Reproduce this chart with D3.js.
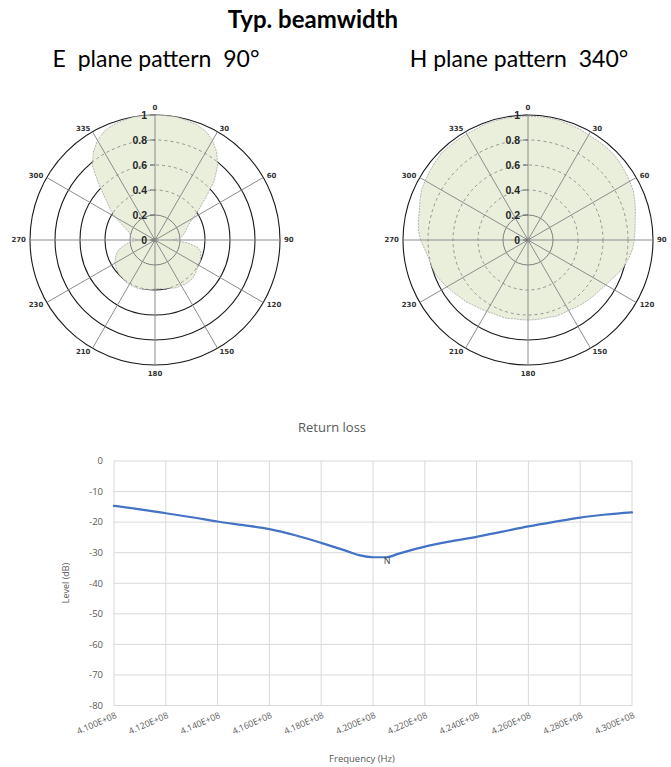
<!DOCTYPE html>
<html><head><meta charset="utf-8">
<script src="https://cdn.jsdelivr.net/npm/d3@7"></script>
<style>
html,body{margin:0;padding:0;background:#fff;}
svg{display:block;}
</style></head>
<body>
<svg id="chart" width="671" height="767"></svg>
<script>
// ---------- data ----------
const patternAngles = [0,5,10,15,20,25,30,35,40,45,50,55,60,65,70,75,80,85,90,95,100,105,110,115,120,125,130,135,140,145,150,155,160,165,170,175,180,185,190,195,200,205,210,215,220,225,230,235,240,245,250,255,260,265,270,275,280,285,290,295,300,305,310,315,320,325,330,335,340,345,350,355];
const ePlane = [1.00,1.00,1.00,0.99,0.98,0.96,0.92,0.86,0.78,0.67,0.53,0.43,0.35,0.30,0.27,0.25,0.23,0.20,0.14,0.26,0.35,0.38,0.39,0.40,0.40,0.41,0.42,0.43,0.43,0.43,0.42,0.42,0.41,0.40,0.40,0.39,0.39,0.40,0.40,0.41,0.41,0.41,0.41,0.41,0.40,0.40,0.39,0.38,0.37,0.35,0.33,0.30,0.25,0.20,0.13,0.19,0.20,0.21,0.24,0.29,0.37,0.44,0.52,0.64,0.78,0.86,0.92,0.96,0.98,0.99,1.00,1.00];
const hPlane = [0.99,0.99,0.99,0.99,0.98,0.98,0.97,0.97,0.97,0.97,0.96,0.95,0.94,0.93,0.91,0.89,0.87,0.86,0.85,0.84,0.82,0.80,0.77,0.74,0.72,0.70,0.69,0.68,0.67,0.66,0.65,0.65,0.65,0.64,0.64,0.64,0.64,0.64,0.64,0.65,0.65,0.65,0.66,0.67,0.68,0.70,0.71,0.73,0.75,0.77,0.79,0.80,0.81,0.83,0.86,0.88,0.89,0.90,0.92,0.94,0.95,0.96,0.97,0.98,0.98,0.98,0.98,0.98,0.99,0.99,0.99,0.99];
const spokeAngles = [0,30,60,90,120,150,180,210,240,270,300,330];
const spokeLabels = ["0","30","60","90","120","150","180","210","230","270","300","335"];
const ringValues = [0.2,0.4,0.6,0.8,1.0];
const ringLabels = ["0","0.2","0.4","0.6","0.8","1"];

const freqs = [4.10e8,4.11e8,4.12e8,4.13e8,4.14e8,4.15e8,4.16e8,4.17e8,4.18e8,4.19e8,4.195e8,4.20e8,4.205e8,4.21e8,4.22e8,4.23e8,4.24e8,4.25e8,4.26e8,4.27e8,4.28e8,4.29e8,4.30e8];
const returnLoss = [-14.7,-15.8,-17.1,-18.4,-19.8,-21.0,-22.3,-24.3,-26.8,-29.5,-30.9,-31.5,-31.5,-30.3,-28.0,-26.3,-24.8,-23.1,-21.4,-19.9,-18.5,-17.5,-16.8];
const freqTicks = [4.10e8,4.12e8,4.14e8,4.16e8,4.18e8,4.20e8,4.22e8,4.24e8,4.26e8,4.28e8,4.30e8];
const levelTicks = [0,-10,-20,-30,-40,-50,-60,-70,-80];

// ---------- drawing ----------
const svg = d3.select("#chart");

svg.append("text").attr("x",313).attr("y",28).attr("text-anchor","middle")
  .style("font-family","Lato, 'Open Sans', sans-serif").style("font-weight","bold").style("font-size","24px").attr("fill","#000")
  .text("Typ. beamwidth");
svg.append("text").attr("x",156).attr("y",67).attr("text-anchor","middle")
  .style("font-family","Lato, 'Open Sans', sans-serif").style("font-size","23px").attr("fill","#000").attr("xml:space","preserve")
  .text("E  plane pattern  90°");
svg.append("text").attr("x",519).attr("y",67).attr("text-anchor","middle")
  .style("font-family","Lato, 'Open Sans', sans-serif").style("font-size","23px").attr("fill","#000").attr("xml:space","preserve")
  .text("H plane pattern  340°");

function drawPolar(cx, cy, values, id){
  const g = svg.append("g").attr("transform",`translate(${cx},${cy})`);
  const r = d3.scaleLinear().domain([0,1]).range([0,125]);
  const pts = patternAngles.map((a,i)=>({a:a, v:values[i]}));
  const radial = d3.lineRadial().angle(d=>d.a*Math.PI/180).radius(d=>r(d.v)).curve(d3.curveLinearClosed);

  g.selectAll(".ring").data(ringValues.filter(v=>v>0.2)).enter().append("circle")
    .attr("r",d=>r(d)).attr("fill","none").attr("stroke","#1a1a1a").attr("stroke-width",1.1);

  g.append("path").attr("d",radial(pts)).attr("fill","#eaefdc").attr("stroke","none");

  svg.append("defs").append("clipPath").attr("id","clip"+id).append("path").attr("d",radial(pts));
  g.append("g").attr("clip-path",`url(#clip${id})`).selectAll("circle")
    .data(ringValues.filter(v=>v>0.2)).enter().append("circle")
    .attr("r",d=>r(d)).attr("fill","none").attr("stroke","#8a8a8a").attr("stroke-width",0.9).attr("stroke-dasharray","3,3");

  g.append("circle").attr("r",r(0.2)).attr("fill","none").attr("stroke","#7f7f7f").attr("stroke-width",1);

  g.selectAll(".spoke").data(spokeAngles).enter().append("line")
    .attr("x1",0).attr("y1",0)
    .attr("x2",d=>r(1)*Math.sin(d*Math.PI/180))
    .attr("y2",d=>-r(1)*Math.cos(d*Math.PI/180))
    .attr("stroke","#8c8c8c").attr("stroke-width",1);

  g.append("path").attr("d",radial(pts)).attr("fill","none").attr("stroke","#9a9a9a").attr("stroke-width",0.7).attr("stroke-dasharray","2,1");

  g.append("circle").attr("r",2.2).attr("fill","#8c8c8c");

  const ringAll = [0].concat(ringValues);
  g.selectAll(".vt").data(ringAll).enter().append("line")
    .attr("x1",-5).attr("x2",0).attr("y1",d=>-r(d)).attr("y2",d=>-r(d))
    .attr("stroke","#666").attr("stroke-width",1);
  g.selectAll(".vl").data(ringAll).enter().append("text")
    .attr("x",-8).attr("y",d=>-r(d)).attr("dy","0.36em").attr("text-anchor","end")
    .style("font-family","'Liberation Sans', Arial, sans-serif").style("font-weight","bold").style("font-size","10.5px").attr("fill","#262626")
    .text((d,i)=>ringLabels[i]);

  g.selectAll(".al").data(spokeAngles).enter().append("text")
    .each(function(d,i){
      const rad = d*Math.PI/180, s=Math.sin(rad), c=Math.cos(rad);
      const rr = 129;
      let x = rr*s, y = -rr*c;
      let anchor = Math.abs(s)<0.01 ? "middle" : (s>0 ? "start" : "end");
      let dy = "0.35em";
      if (d===0){ dy="-0.2em"; }
      if (d===180){ dy="1.0em"; }
      d3.select(this).attr("x",x).attr("y",y).attr("dy",dy).attr("text-anchor",anchor).text(spokeLabels[i]);
    })
    .style("font-family","'DejaVu Sans', sans-serif").style("font-weight","bold").style("font-size","7px").attr("fill","#333");
}

drawPolar(155,240,ePlane,"E");
drawPolar(528,240,hPlane,"H");

// ---------- return loss chart ----------
const x = d3.scaleLinear().domain([4.10e8,4.30e8]).range([114,632]);
const y = d3.scaleLinear().domain([-80,0]).range([705.5,461]);
const grey = "#595959";
const lc = svg.append("g");

lc.append("text").attr("x",332).attr("y",432).attr("text-anchor","middle")
  .style("font-family","'Open Sans', sans-serif").style("font-size","13px").attr("fill",grey).text("Return loss");

lc.selectAll(".hg").data(levelTicks).enter().append("line")
  .attr("x1",x(4.10e8)).attr("x2",x(4.30e8)).attr("y1",d=>y(d)).attr("y2",d=>y(d))
  .attr("stroke","#d9d9d9").attr("stroke-width",1);
lc.selectAll(".vg").data(freqTicks).enter().append("line")
  .attr("x1",d=>x(d)).attr("x2",d=>x(d)).attr("y1",y(0)).attr("y2",y(-80))
  .attr("stroke","#d9d9d9").attr("stroke-width",1);

lc.selectAll(".yl").data(levelTicks).enter().append("text")
  .attr("x",103).attr("y",d=>y(d)).attr("dy","0.35em").attr("text-anchor","end")
  .style("font-family","'Open Sans', sans-serif").style("font-size","9.5px").attr("fill",grey).text(d=>d);

const fmt = v => (v/1e8).toFixed(3)+"E+08";
lc.selectAll(".xl").data(freqTicks).enter().append("text")
  .attr("transform",d=>`translate(${x(d)+2},${y(-80)+9}) rotate(-24)`)
  .attr("text-anchor","end").attr("dy","0.35em")
  .style("font-family","'Open Sans', sans-serif").style("font-size","8.8px").attr("fill",grey).text(fmt);

lc.append("text").attr("transform","translate(69,583) rotate(-90)").attr("text-anchor","middle")
  .style("font-family","'Open Sans', sans-serif").style("font-size","9px").attr("fill",grey).text("Level (dB)");
lc.append("text").attr("x",362).attr("y",762).attr("text-anchor","middle")
  .style("font-family","'Open Sans', sans-serif").style("font-size","9.5px").attr("fill",grey).text("Frequency (Hz)");

const line = d3.line().x(d=>x(d[0])).y(d=>y(d[1])).curve(d3.curveMonotoneX);
lc.append("path").attr("d",line(freqs.map((f,i)=>[f,returnLoss[i]])))
  .attr("fill","none").attr("stroke","#4472c4").attr("stroke-width",2.2).attr("stroke-linecap","round");

lc.append("text").attr("x",x(4.2055e8)).attr("y",y(-31.5)+4).attr("text-anchor","middle").attr("dy","0.35em")
  .style("font-family","'Open Sans', sans-serif").style("font-size","9px").attr("fill","#404040").text("N");
</script>
</body></html>
